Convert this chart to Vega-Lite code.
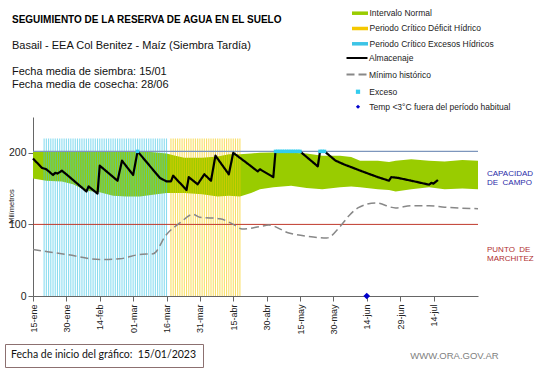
{
  "$schema": "https://vega.github.io/schema/vega-lite/v6.json",
  "width": 445,
  "height": 179,
  "autosize": {"type": "none"},
  "padding": {"left": 33, "top": 117, "right": 63, "bottom": 72},
  "background": "white",
  "title": {
    "text": "SEGUIMIENTO DE LA RESERVA DE AGUA  EN EL SUELO",
    "subtitle": ["Basail - EEA Col Benitez - Maíz  (Siembra Tardía)", "\u2800", "Fecha media de siembra: 15/01", "Fecha media de cosecha: 28/06"],
    "anchor": "start",
    "frame": "group",
    "orient": "top",
    "dx": -21,
    "offset": -85,
    "font": "Liberation Sans",
    "fontSize": 10,
    "fontWeight": "bold",
    "color": "#000000",
    "subtitleFont": "Liberation Sans",
    "subtitleFontSize": 11,
    "subtitleLineHeight": 13,
    "subtitlePadding": 15,
    "subtitleColor": "#111111"
  },
  "config": {
    "view": {"stroke": null},
    "axis": {"grid": false, "domainColor": "#666666", "tickColor": "#666666", "labelColor": "#222222", "labelFont": "Liberation Sans"},
    "axisX": {"labelOverlap": false, "labelFlush": false, "labelBound": false},
    "legend": {"labelFont": "Liberation Sans", "labelFontSize": 8.5, "labelColor": "#222222", "labelLimit": 300, "padding": 0, "symbolOpacity": 1}
  },
  "datasets": {
    "banda": [
      {"fecha": "2023-01-15", "minimo": 164, "maximo": 201.5},
      {"fecha": "2023-01-21", "minimo": 161, "maximo": 201.5},
      {"fecha": "2023-01-28", "minimo": 160, "maximo": 201.5},
      {"fecha": "2023-02-02", "minimo": 156, "maximo": 201},
      {"fecha": "2023-02-08", "minimo": 147, "maximo": 201},
      {"fecha": "2023-02-14", "minimo": 145, "maximo": 201},
      {"fecha": "2023-02-20", "minimo": 140, "maximo": 201},
      {"fecha": "2023-02-26", "minimo": 139, "maximo": 201},
      {"fecha": "2023-03-04", "minimo": 139, "maximo": 201},
      {"fecha": "2023-03-09", "minimo": 141, "maximo": 201},
      {"fecha": "2023-03-16", "minimo": 144, "maximo": 199},
      {"fecha": "2023-03-20", "minimo": 144, "maximo": 196},
      {"fecha": "2023-03-24", "minimo": 144, "maximo": 193},
      {"fecha": "2023-04-01", "minimo": 142, "maximo": 193},
      {"fecha": "2023-04-08", "minimo": 139, "maximo": 195},
      {"fecha": "2023-04-13", "minimo": 140, "maximo": 198},
      {"fecha": "2023-04-18", "minimo": 139, "maximo": 198},
      {"fecha": "2023-04-23", "minimo": 144, "maximo": 199},
      {"fecha": "2023-04-27", "minimo": 149, "maximo": 200},
      {"fecha": "2023-05-03", "minimo": 152, "maximo": 200.5},
      {"fecha": "2023-05-11", "minimo": 154, "maximo": 200},
      {"fecha": "2023-05-18", "minimo": 151, "maximo": 199},
      {"fecha": "2023-05-25", "minimo": 149, "maximo": 196},
      {"fecha": "2023-06-02", "minimo": 152, "maximo": 196},
      {"fecha": "2023-06-07", "minimo": 153, "maximo": 194},
      {"fecha": "2023-06-11", "minimo": 152, "maximo": 189},
      {"fecha": "2023-06-19", "minimo": 149, "maximo": 189},
      {"fecha": "2023-06-24", "minimo": 148, "maximo": 187},
      {"fecha": "2023-06-27", "minimo": 146, "maximo": 189},
      {"fecha": "2023-07-04", "minimo": 149, "maximo": 191},
      {"fecha": "2023-07-12", "minimo": 152, "maximo": 189},
      {"fecha": "2023-07-19", "minimo": 149, "maximo": 188},
      {"fecha": "2023-07-27", "minimo": 150, "maximo": 190},
      {"fecha": "2023-08-03", "minimo": 149, "maximo": 189}
    ],
    "periodos": [
      {"fecha": "2023-01-20", "periodo": "Periodo Crítico Excesos Hídricos"},
      {"fecha": "2023-01-21", "periodo": "Periodo Crítico Excesos Hídricos"},
      {"fecha": "2023-01-22", "periodo": "Periodo Crítico Excesos Hídricos"},
      {"fecha": "2023-01-23", "periodo": "Periodo Crítico Excesos Hídricos"},
      {"fecha": "2023-01-24", "periodo": "Periodo Crítico Excesos Hídricos"},
      {"fecha": "2023-01-25", "periodo": "Periodo Crítico Excesos Hídricos"},
      {"fecha": "2023-01-26", "periodo": "Periodo Crítico Excesos Hídricos"},
      {"fecha": "2023-01-27", "periodo": "Periodo Crítico Excesos Hídricos"},
      {"fecha": "2023-01-28", "periodo": "Periodo Crítico Excesos Hídricos"},
      {"fecha": "2023-01-29", "periodo": "Periodo Crítico Excesos Hídricos"},
      {"fecha": "2023-01-30", "periodo": "Periodo Crítico Excesos Hídricos"},
      {"fecha": "2023-01-31", "periodo": "Periodo Crítico Excesos Hídricos"},
      {"fecha": "2023-02-01", "periodo": "Periodo Crítico Excesos Hídricos"},
      {"fecha": "2023-02-02", "periodo": "Periodo Crítico Excesos Hídricos"},
      {"fecha": "2023-02-03", "periodo": "Periodo Crítico Excesos Hídricos"},
      {"fecha": "2023-02-04", "periodo": "Periodo Crítico Excesos Hídricos"},
      {"fecha": "2023-02-05", "periodo": "Periodo Crítico Excesos Hídricos"},
      {"fecha": "2023-02-06", "periodo": "Periodo Crítico Excesos Hídricos"},
      {"fecha": "2023-02-07", "periodo": "Periodo Crítico Excesos Hídricos"},
      {"fecha": "2023-02-08", "periodo": "Periodo Crítico Excesos Hídricos"},
      {"fecha": "2023-02-09", "periodo": "Periodo Crítico Excesos Hídricos"},
      {"fecha": "2023-02-10", "periodo": "Periodo Crítico Excesos Hídricos"},
      {"fecha": "2023-02-11", "periodo": "Periodo Crítico Excesos Hídricos"},
      {"fecha": "2023-02-12", "periodo": "Periodo Crítico Excesos Hídricos"},
      {"fecha": "2023-02-13", "periodo": "Periodo Crítico Excesos Hídricos"},
      {"fecha": "2023-02-14", "periodo": "Periodo Crítico Excesos Hídricos"},
      {"fecha": "2023-02-15", "periodo": "Periodo Crítico Excesos Hídricos"},
      {"fecha": "2023-02-16", "periodo": "Periodo Crítico Excesos Hídricos"},
      {"fecha": "2023-02-17", "periodo": "Periodo Crítico Excesos Hídricos"},
      {"fecha": "2023-02-18", "periodo": "Periodo Crítico Excesos Hídricos"},
      {"fecha": "2023-02-19", "periodo": "Periodo Crítico Excesos Hídricos"},
      {"fecha": "2023-02-20", "periodo": "Periodo Crítico Excesos Hídricos"},
      {"fecha": "2023-02-21", "periodo": "Periodo Crítico Excesos Hídricos"},
      {"fecha": "2023-02-22", "periodo": "Periodo Crítico Excesos Hídricos"},
      {"fecha": "2023-02-23", "periodo": "Periodo Crítico Excesos Hídricos"},
      {"fecha": "2023-02-24", "periodo": "Periodo Crítico Excesos Hídricos"},
      {"fecha": "2023-02-25", "periodo": "Periodo Crítico Excesos Hídricos"},
      {"fecha": "2023-02-26", "periodo": "Periodo Crítico Excesos Hídricos"},
      {"fecha": "2023-02-27", "periodo": "Periodo Crítico Excesos Hídricos"},
      {"fecha": "2023-02-28", "periodo": "Periodo Crítico Excesos Hídricos"},
      {"fecha": "2023-03-01", "periodo": "Periodo Crítico Excesos Hídricos"},
      {"fecha": "2023-03-02", "periodo": "Periodo Crítico Excesos Hídricos"},
      {"fecha": "2023-03-03", "periodo": "Periodo Crítico Excesos Hídricos"},
      {"fecha": "2023-03-04", "periodo": "Periodo Crítico Excesos Hídricos"},
      {"fecha": "2023-03-05", "periodo": "Periodo Crítico Excesos Hídricos"},
      {"fecha": "2023-03-06", "periodo": "Periodo Crítico Excesos Hídricos"},
      {"fecha": "2023-03-07", "periodo": "Periodo Crítico Excesos Hídricos"},
      {"fecha": "2023-03-08", "periodo": "Periodo Crítico Excesos Hídricos"},
      {"fecha": "2023-03-09", "periodo": "Periodo Crítico Excesos Hídricos"},
      {"fecha": "2023-03-10", "periodo": "Periodo Crítico Excesos Hídricos"},
      {"fecha": "2023-03-11", "periodo": "Periodo Crítico Excesos Hídricos"},
      {"fecha": "2023-03-12", "periodo": "Periodo Crítico Excesos Hídricos"},
      {"fecha": "2023-03-13", "periodo": "Periodo Crítico Excesos Hídricos"},
      {"fecha": "2023-03-14", "periodo": "Periodo Crítico Excesos Hídricos"},
      {"fecha": "2023-03-15", "periodo": "Periodo Crítico Excesos Hídricos"},
      {"fecha": "2023-03-16", "periodo": "Periodo Crítico Excesos Hídricos"},
      {"fecha": "2023-03-18", "periodo": "Periodo Crítico Déficit Hídrico"},
      {"fecha": "2023-03-19", "periodo": "Periodo Crítico Déficit Hídrico"},
      {"fecha": "2023-03-20", "periodo": "Periodo Crítico Déficit Hídrico"},
      {"fecha": "2023-03-21", "periodo": "Periodo Crítico Déficit Hídrico"},
      {"fecha": "2023-03-22", "periodo": "Periodo Crítico Déficit Hídrico"},
      {"fecha": "2023-03-23", "periodo": "Periodo Crítico Déficit Hídrico"},
      {"fecha": "2023-03-24", "periodo": "Periodo Crítico Déficit Hídrico"},
      {"fecha": "2023-03-25", "periodo": "Periodo Crítico Déficit Hídrico"},
      {"fecha": "2023-03-26", "periodo": "Periodo Crítico Déficit Hídrico"},
      {"fecha": "2023-03-27", "periodo": "Periodo Crítico Déficit Hídrico"},
      {"fecha": "2023-03-28", "periodo": "Periodo Crítico Déficit Hídrico"},
      {"fecha": "2023-03-29", "periodo": "Periodo Crítico Déficit Hídrico"},
      {"fecha": "2023-03-30", "periodo": "Periodo Crítico Déficit Hídrico"},
      {"fecha": "2023-03-31", "periodo": "Periodo Crítico Déficit Hídrico"},
      {"fecha": "2023-04-01", "periodo": "Periodo Crítico Déficit Hídrico"},
      {"fecha": "2023-04-02", "periodo": "Periodo Crítico Déficit Hídrico"},
      {"fecha": "2023-04-03", "periodo": "Periodo Crítico Déficit Hídrico"},
      {"fecha": "2023-04-04", "periodo": "Periodo Crítico Déficit Hídrico"},
      {"fecha": "2023-04-05", "periodo": "Periodo Crítico Déficit Hídrico"},
      {"fecha": "2023-04-06", "periodo": "Periodo Crítico Déficit Hídrico"},
      {"fecha": "2023-04-07", "periodo": "Periodo Crítico Déficit Hídrico"},
      {"fecha": "2023-04-08", "periodo": "Periodo Crítico Déficit Hídrico"},
      {"fecha": "2023-04-09", "periodo": "Periodo Crítico Déficit Hídrico"},
      {"fecha": "2023-04-10", "periodo": "Periodo Crítico Déficit Hídrico"},
      {"fecha": "2023-04-11", "periodo": "Periodo Crítico Déficit Hídrico"},
      {"fecha": "2023-04-12", "periodo": "Periodo Crítico Déficit Hídrico"},
      {"fecha": "2023-04-13", "periodo": "Periodo Crítico Déficit Hídrico"},
      {"fecha": "2023-04-14", "periodo": "Periodo Crítico Déficit Hídrico"},
      {"fecha": "2023-04-15", "periodo": "Periodo Crítico Déficit Hídrico"},
      {"fecha": "2023-04-16", "periodo": "Periodo Crítico Déficit Hídrico"},
      {"fecha": "2023-04-17", "periodo": "Periodo Crítico Déficit Hídrico"},
      {"fecha": "2023-04-18", "periodo": "Periodo Crítico Déficit Hídrico"}
    ],
    "almacenaje": [
      {"fecha": "2023-01-15", "mm": 192},
      {"fecha": "2023-01-19", "mm": 179},
      {"fecha": "2023-01-21", "mm": 177},
      {"fecha": "2023-01-24", "mm": 169},
      {"fecha": "2023-01-25", "mm": 172},
      {"fecha": "2023-01-26", "mm": 171},
      {"fecha": "2023-01-28", "mm": 175},
      {"fecha": "2023-01-30", "mm": 170},
      {"fecha": "2023-02-08", "mm": 146},
      {"fecha": "2023-02-09", "mm": 153},
      {"fecha": "2023-02-13", "mm": 143},
      {"fecha": "2023-02-14", "mm": 182},
      {"fecha": "2023-02-22", "mm": 161},
      {"fecha": "2023-02-24", "mm": 189},
      {"fecha": "2023-03-01", "mm": 169},
      {"fecha": "2023-03-03", "mm": 202},
      {"fecha": "2023-03-13", "mm": 165},
      {"fecha": "2023-03-16", "mm": 160},
      {"fecha": "2023-03-18", "mm": 160},
      {"fecha": "2023-03-19", "mm": 168},
      {"fecha": "2023-03-25", "mm": 148},
      {"fecha": "2023-03-26", "mm": 166},
      {"fecha": "2023-03-30", "mm": 156},
      {"fecha": "2023-04-02", "mm": 170},
      {"fecha": "2023-04-05", "mm": 161},
      {"fecha": "2023-04-07", "mm": 196},
      {"fecha": "2023-04-13", "mm": 170},
      {"fecha": "2023-04-15", "mm": 200},
      {"fecha": "2023-04-21", "mm": 186},
      {"fecha": "2023-04-26", "mm": 174},
      {"fecha": "2023-04-27", "mm": 177},
      {"fecha": "2023-05-03", "mm": 166},
      {"fecha": "2023-05-04", "mm": 202},
      {"fecha": "2023-05-15", "mm": 202},
      {"fecha": "2023-05-23", "mm": 181},
      {"fecha": "2023-05-24", "mm": 202},
      {"fecha": "2023-05-26", "mm": 202},
      {"fecha": "2023-05-31", "mm": 189},
      {"fecha": "2023-06-04", "mm": 183.5},
      {"fecha": "2023-06-07", "mm": 180},
      {"fecha": "2023-06-12", "mm": 174},
      {"fecha": "2023-06-19", "mm": 166},
      {"fecha": "2023-06-24", "mm": 161},
      {"fecha": "2023-06-25", "mm": 166},
      {"fecha": "2023-06-28", "mm": 165},
      {"fecha": "2023-07-04", "mm": 161},
      {"fecha": "2023-07-12", "mm": 155.5},
      {"fecha": "2023-07-13", "mm": 158},
      {"fecha": "2023-07-14", "mm": 157},
      {"fecha": "2023-07-16", "mm": 162}
    ],
    "minimo": [
      {"fecha": "2023-01-15", "mm": 65},
      {"fecha": "2023-01-30", "mm": 58},
      {"fecha": "2023-02-14", "mm": 51},
      {"fecha": "2023-02-23", "mm": 52},
      {"fecha": "2023-03-04", "mm": 58},
      {"fecha": "2023-03-10", "mm": 59},
      {"fecha": "2023-03-16", "mm": 86},
      {"fecha": "2023-03-22", "mm": 102},
      {"fecha": "2023-03-28", "mm": 114},
      {"fecha": "2023-03-31", "mm": 110},
      {"fecha": "2023-04-09", "mm": 108},
      {"fecha": "2023-04-15", "mm": 100},
      {"fecha": "2023-04-19", "mm": 93.5},
      {"fecha": "2023-04-27", "mm": 97},
      {"fecha": "2023-05-01", "mm": 99},
      {"fecha": "2023-05-10", "mm": 88},
      {"fecha": "2023-05-19", "mm": 83},
      {"fecha": "2023-05-27", "mm": 81},
      {"fecha": "2023-06-02", "mm": 97},
      {"fecha": "2023-06-06", "mm": 112},
      {"fecha": "2023-06-10", "mm": 123},
      {"fecha": "2023-06-18", "mm": 130},
      {"fecha": "2023-06-27", "mm": 123},
      {"fecha": "2023-07-04", "mm": 126},
      {"fecha": "2023-07-12", "mm": 126},
      {"fecha": "2023-07-19", "mm": 124},
      {"fecha": "2023-08-03", "mm": 122}
    ],
    "exceso": [
      {"fecha": "2023-03-03", "mm": 202},
      {"fecha": "2023-05-04", "mm": 202},
      {"fecha": "2023-05-05", "mm": 202},
      {"fecha": "2023-05-06", "mm": 202},
      {"fecha": "2023-05-07", "mm": 202},
      {"fecha": "2023-05-08", "mm": 202},
      {"fecha": "2023-05-09", "mm": 202},
      {"fecha": "2023-05-10", "mm": 202},
      {"fecha": "2023-05-11", "mm": 202},
      {"fecha": "2023-05-12", "mm": 202},
      {"fecha": "2023-05-13", "mm": 202},
      {"fecha": "2023-05-14", "mm": 202},
      {"fecha": "2023-05-15", "mm": 202},
      {"fecha": "2023-05-24", "mm": 202},
      {"fecha": "2023-05-25", "mm": 202},
      {"fecha": "2023-05-26", "mm": 202}
    ],
    "helada": [
      {"fecha": "2023-06-14", "mm": 0}
    ]
  },
  "layer": [
    {
      "data": {"name": "banda"},
      "mark": {"type": "area", "opacity": 1},
      "encoding": {
        "x": {"field": "fecha", "type": "temporal",
          "scale": {"type": "utc", "domain": [{"year": 2023, "month": 1, "date": 15, "utc": true}, {"year": 2023, "month": 8, "date": 3, "utc": true}]},
          "axis": {
            "values": [
              {"year": 2023, "month": 1, "date": 15, "utc": true},
              {"year": 2023, "month": 1, "date": 30, "utc": true},
              {"year": 2023, "month": 2, "date": 14, "utc": true},
              {"year": 2023, "month": 3, "date": 1, "utc": true},
              {"year": 2023, "month": 3, "date": 16, "utc": true},
              {"year": 2023, "month": 3, "date": 31, "utc": true},
              {"year": 2023, "month": 4, "date": 15, "utc": true},
              {"year": 2023, "month": 4, "date": 30, "utc": true},
              {"year": 2023, "month": 5, "date": 15, "utc": true},
              {"year": 2023, "month": 5, "date": 30, "utc": true},
              {"year": 2023, "month": 6, "date": 14, "utc": true},
              {"year": 2023, "month": 6, "date": 29, "utc": true},
              {"year": 2023, "month": 7, "date": 14, "utc": true}
            ],
            "tickCount": 30,
            "labelExpr": "utcFormat(datum.value, '%d') + '-' + ['ene','feb','mar','abr','may','jun','jul','ago'][utcmonth(datum.value)]",
            "labelAngle": 270,
            "labelAlign": "right",
            "labelBaseline": "middle",
            "labelFontSize": 9,
            "labelPadding": 3,
            "tickSize": 5,
            "labelOverlap": false,
            "labelFlush": false,
            "title": "WWW.ORA.GOV.AR",
            "titleX": 421,
            "titleY": 59,
            "titleAlign": "center",
            "titleBaseline": "middle",
            "titleAnchor": null,
            "titleFont": "Liberation Sans",
            "titleFontSize": 9.5,
            "titleFontWeight": "normal",
            "titleColor": "#7f7f7f"
          }
        },
        "y": {"field": "minimo", "type": "quantitative",
          "scale": {"domain": [0, 250], "nice": false},
          "axis": {
            "values": [0, 50, 100, 150, 200, 250],
            "labelFontSize": 10.5,
            "labelPadding": 2,
            "tickSize": 5,
            "title": "Milímetros",
            "titleX": -22,
            "titleY": 89,
            "titleAngle": 270,
            "titleAlign": "center",
            "titleBaseline": "middle",
            "titleFont": "Liberation Sans",
            "titleFontSize": 7.5,
            "titleFontWeight": "normal",
            "titleColor": "#222222"
          }
        },
        "y2": {"field": "maximo"},
        "color": {"datum": "Intervalo Normal", "type": "nominal",
          "scale": {
            "domain": ["Intervalo Normal", "Periodo Crítico Déficit Hídrico", "Periodo Crítico Excesos Hídricos"],
            "range": ["#99cc00", "#f5c800", "#3cc4e6"]
          },
          "legend": {
            "orient": "none",
            "legendX": 319,
            "legendY": -111.8,
            "title": null,
            "symbolType": "M-1,-0.22H1V0.22H-1Z",
            "symbolSize": 256,
            "symbolStrokeWidth": 0,
            "symbolOffset": 0,
            "labelOffset": 1.5,
            "rowPadding": 2.3
          }
        }
      }
    },
    {
      "data": {"name": "periodos"},
      "mark": {"type": "rule", "strokeWidth": 1.1, "opacity": 0.6},
      "encoding": {
        "x": {"field": "fecha", "type": "temporal"},
        "y": {"datum": 220, "type": "quantitative"},
        "y2": {"datum": 0},
        "color": {"field": "periodo", "type": "nominal", "title": null, "legend": null}
      }
    },
    {
      "data": {"values": [{}]},
      "mark": {"type": "rule", "color": "#7d96bd", "strokeWidth": 1.2},
      "encoding": {"y": {"datum": 202, "type": "quantitative"}}
    },
    {
      "data": {"values": [{}]},
      "mark": {"type": "rule", "color": "#c0392b", "strokeWidth": 1},
      "encoding": {"y": {"datum": 100, "type": "quantitative"}}
    },
    {
      "data": {"name": "minimo"},
      "mark": {"type": "line", "strokeWidth": 1.5, "interpolate": "monotone"},
      "encoding": {
        "x": {"field": "fecha", "type": "temporal"},
        "y": {"field": "mm", "type": "quantitative"},
        "stroke": {"datum": "Mínimo histórico", "type": "nominal", "title": null},
        "strokeDash": {"datum": "Mínimo histórico", "type": "nominal", "title": null}
      }
    },
    {
      "data": {"name": "almacenaje"},
      "mark": {"type": "line", "strokeWidth": 2.2, "strokeJoin": "round"},
      "encoding": {
        "x": {"field": "fecha", "type": "temporal"},
        "y": {"field": "mm", "type": "quantitative"},
        "stroke": {"datum": "Almacenaje", "type": "nominal", "title": null,
          "scale": {"domain": ["Almacenaje", "Mínimo histórico"], "range": ["#000000", "#888888"]},
          "legend": {
            "orient": "none",
            "legendX": 311,
            "legendY": -65.5,
            "title": null,
            "symbolType": "M-2,0H2",
            "symbolSize": 110,
            "symbolStrokeWidth": 2,
            "symbolFillColor": "transparent",
            "symbolOffset": 6.5,
            "labelOffset": 5.5,
            "rowPadding": 5.5
          }
        },
        "strokeDash": {"datum": "Almacenaje", "type": "nominal", "title": null,
          "scale": {"domain": ["Almacenaje", "Mínimo histórico"], "range": [[1, 0], [8, 4]]}
        }
      }
    },
    {
      "data": {"name": "exceso"},
      "mark": {"type": "point", "filled": true, "size": 12, "opacity": 1},
      "encoding": {
        "x": {"field": "fecha", "type": "temporal"},
        "y": {"field": "mm", "type": "quantitative"},
        "fill": {"datum": "Exceso", "type": "nominal", "title": null,
          "scale": {"domain": ["Exceso", "Temp <3°C fuera del período habitual"], "range": ["#33ccee", "#0000cc"]},
          "legend": {
            "orient": "none",
            "legendX": 314,
            "legendY": -29.5,
            "title": null,
            "symbolSize": 18,
            "symbolStrokeWidth": 0,
            "symbolOffset": 6.75,
            "labelOffset": 7,
            "rowPadding": 6
          }
        },
        "shape": {"datum": "Exceso", "type": "nominal", "title": null,
          "scale": {"domain": ["Exceso", "Temp <3°C fuera del período habitual"], "range": ["square", "diamond"]}
        }
      }
    },
    {
      "data": {"name": "helada"},
      "mark": {"type": "point", "filled": true, "size": 45},
      "encoding": {
        "x": {"field": "fecha", "type": "temporal"},
        "y": {"field": "mm", "type": "quantitative"},
        "fill": {"datum": "Temp <3°C fuera del período habitual", "type": "nominal", "title": null},
        "shape": {"datum": "Temp <3°C fuera del período habitual", "type": "nominal", "title": null},
        "opacity": {"datum": "Fecha de inicio del gráfico:\u00a0 15/01/2023\u00a0\u00a0", "type": "ordinal",
          "scale": {"range": [1, 1]},
          "legend": {
            "orient": "none",
            "legendX": -28,
            "legendY": 227,
            "title": null,
            "padding": 6,
            "strokeColor": "#8c7070",
            "fillColor": "#ffffff",
            "symbolSize": 0,
            "symbolOpacity": 0,
            "symbolStrokeWidth": 0,
            "labelOffset": -10.5,
            "labelLimit": 400,
            "labelFont": "Lato",
            "labelFontSize": 10.5,
            "labelColor": "#111111"
          }
        }
      }
    },
    {
      "data": {"values": [{}]},
      "mark": {"type": "text", "align": "left", "baseline": "middle", "dx": 9, "lineBreak": "\n", "lineHeight": 9, "font": "Liberation Sans", "fontSize": 8, "color": "#2b2ba8"},
      "encoding": {
        "x": {"datum": {"year": 2023, "month": 8, "date": 3, "utc": true}, "type": "temporal"},
        "y": {"datum": 170, "type": "quantitative"},
        "text": {"value": "CAPACIDAD\nDE\u00a0 CAMPO"}
      }
    },
    {
      "data": {"values": [{}]},
      "mark": {"type": "text", "align": "left", "baseline": "middle", "dx": 9, "lineBreak": "\n", "lineHeight": 9, "font": "Liberation Sans", "fontSize": 8, "color": "#b03030"},
      "encoding": {
        "x": {"datum": {"year": 2023, "month": 8, "date": 3, "utc": true}, "type": "temporal"},
        "y": {"datum": 64, "type": "quantitative"},
        "text": {"value": "PUNTO\u00a0 DE\nMARCHITEZ"}
      }
    }
  ]
}
